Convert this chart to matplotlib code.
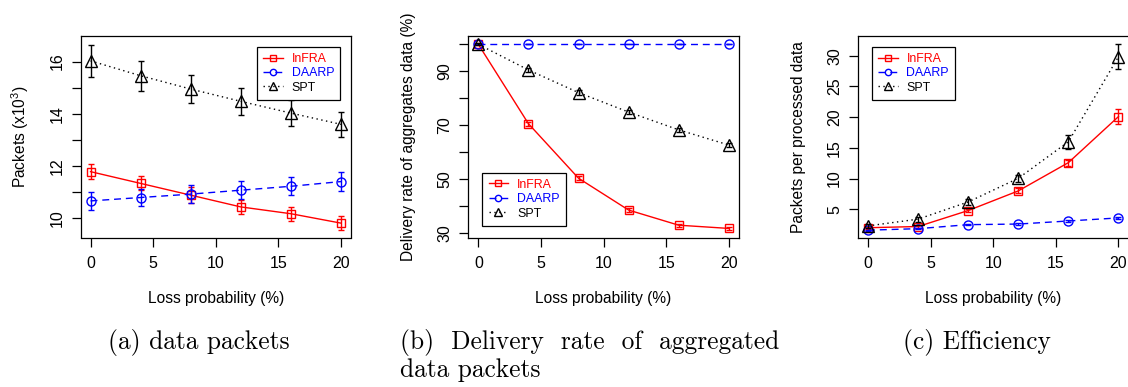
import numpy as np
import matplotlib; matplotlib.use('Agg'); import matplotlib.pyplot as plt

plt.rcParams.update({'font.family': 'Liberation Sans', 'font.size': 11,
                     'mathtext.fontset': 'custom', 'mathtext.rm': 'Liberation Sans',
                     'mathtext.it': 'Liberation Sans:italic',
                     'axes.linewidth': 0.9, 'xtick.major.size': 6.5, 'ytick.major.size': 6.5,
                     'xtick.major.width': 0.9, 'ytick.major.width': 0.9})

# ---- data ----
loss = [0, 4, 8, 12, 16, 20]

pk_infra = [11.79, 11.34, 10.89, 10.44, 10.18, 9.82]
pk_infra_e = [0.29, 0.27, 0.30, 0.28, 0.27, 0.27]
pk_daarp = [10.67, 10.80, 10.93, 11.08, 11.23, 11.41]
pk_daarp_e = [0.34, 0.33, 0.33, 0.34, 0.35, 0.36]
pk_spt = [16.03, 15.46, 14.95, 14.48, 14.03, 13.60]
pk_spt_e = [0.62, 0.58, 0.55, 0.52, 0.50, 0.48]

dr_infra = [100.0, 70.6, 50.4, 38.6, 33.0, 31.8]
dr_infra_e = [0.3, 0.8, 0.8, 0.7, 0.6, 0.6]
dr_daarp = [100.0, 100.0, 100.0, 100.0, 100.0, 100.0]
dr_daarp_e = [0, 0, 0, 0, 0, 0]
dr_spt = [100.0, 90.5, 82.1, 74.9, 68.3, 62.7]
dr_spt_e = [0.3, 0.8, 0.8, 0.8, 0.8, 0.8]

ef_infra = [2.0, 2.2, 4.8, 8.0, 12.6, 20.1]
ef_infra_e = [0.2, 0.2, 0.3, 0.4, 0.5, 1.2]
ef_daarp = [1.6, 1.85, 2.5, 2.6, 3.1, 3.6]
ef_daarp_e = [0.1, 0.1, 0.1, 0.1, 0.1, 0.15]
ef_spt = [2.3, 3.4, 6.2, 10.05, 16.0, 29.85]
ef_spt_e = [0.3, 0.4, 0.5, 0.6, 1.1, 2.0]

names = ['InFRA', 'DAARP', 'SPT']
colors = ['#ff0000', '#0000ff', '#000000']
markers = ['s', 'o', '^']
msizes = [6.0, 6.5, 8.0]
dashes = [None, (5, 3.5), (1, 2.5)]

fig = plt.figure(figsize=(11.28, 3.87), dpi=100)
W, H = 1128.0, 387.0
bot, top = 237.5, 36.0
lefts = [80.5, 468.3, 858.0]
width = 270.5


def panel(i, series, errs, ylim, yticks, ylabels, ylabel, leg_at):
    ax = fig.add_axes([lefts[i] / W, 1 - bot / H, width / W, (bot - top) / H])
    for k in range(3):
        kw = dict(color=colors[k], lw=1.0, marker=markers[k], ms=msizes[k],
                  mfc='none', mec=colors[k], mew=1.0, label=names[k])
        ln, = ax.plot(loss, series[k], **kw)
        if dashes[k] is not None:
            ln.set_dashes(dashes[k])
        ax.errorbar(loss, series[k], yerr=errs[k], fmt='none', ecolor=colors[k],
                    elinewidth=1.0, capsize=2.5, capthick=1.0)
    ax.set_xlim(-0.8, 20.8)
    ax.set_ylim(*ylim)
    ax.set_xticks([0, 5, 10, 15, 20])
    ax.set_yticks(yticks)
    ax.set_yticklabels([str(t) if t in ylabels else '' for t in yticks],
                       rotation=90, va='center')
    ax.tick_params(axis='x', pad=7, labelsize=11.5)
    ax.tick_params(axis='y', pad=5, labelsize=11.5)
    ax.set_xlabel('Loss probability (%)', fontsize=11.2)
    ax.xaxis.set_label_coords(0.5, -60.5 / (bot - top))
    ax.xaxis.label.set_va('center')
    ax.set_ylabel(ylabel, fontsize=11.2)
    ax.yaxis.set_label_coords(-60 / width, 0.5)
    ax.yaxis.label.set_va('center')
    leg = ax.legend(loc='upper left', bbox_to_anchor=leg_at, borderaxespad=0,
                    fontsize=8.9, handlelength=1.6, handletextpad=0.7,
                    markerscale=0.7, fancybox=False, framealpha=1,
                    edgecolor='black', borderpad=0.5, labelspacing=0.2)
    leg.get_frame().set_linewidth(0.9)
    for t, c in zip(leg.get_texts(), colors):
        t.set_color(c)
    return ax


panel(0, [pk_infra, pk_daarp, pk_spt], [pk_infra_e, pk_daarp_e, pk_spt_e],
      (9.27, 16.98), list(range(10, 17)), [10, 12, 14, 16],
      r'Packets (x10$^3$)', (0.653, 0.947))
panel(1, [dr_infra, dr_daarp, dr_spt], [dr_infra_e, dr_daarp_e, dr_spt_e],
      (28.44, 103.07), list(range(30, 101, 10)), [30, 50, 70, 90],
      'Delivery rate of aggregates data (%)', (0.052, 0.322))
panel(2, [ef_infra, ef_daarp, ef_spt], [ef_infra_e, ef_daarp_e, ef_spt_e],
      (0.41, 33.22), [5, 10, 15, 20, 25, 30], [5, 10, 15, 20, 25, 30],
      'Packets per processed data', (0.051, 0.947))

# captions
cap = dict(family='cmr10', fontsize=18.3, va='center')
fig.text(199 / W, 1 - 342 / H, '(a) data packets', ha='center', **cap)
fig.text(400 / W, 1 - 342 / H, '(b)  Delivery  rate  of  aggregated', ha='left', **cap)
fig.text(400 / W, 1 - 370 / H, 'data packets', ha='left', **cap)
fig.text(977 / W, 1 - 342 / H, '(c) Efficiency', ha='center', **cap)

fig.savefig('out.png', dpi=100)
